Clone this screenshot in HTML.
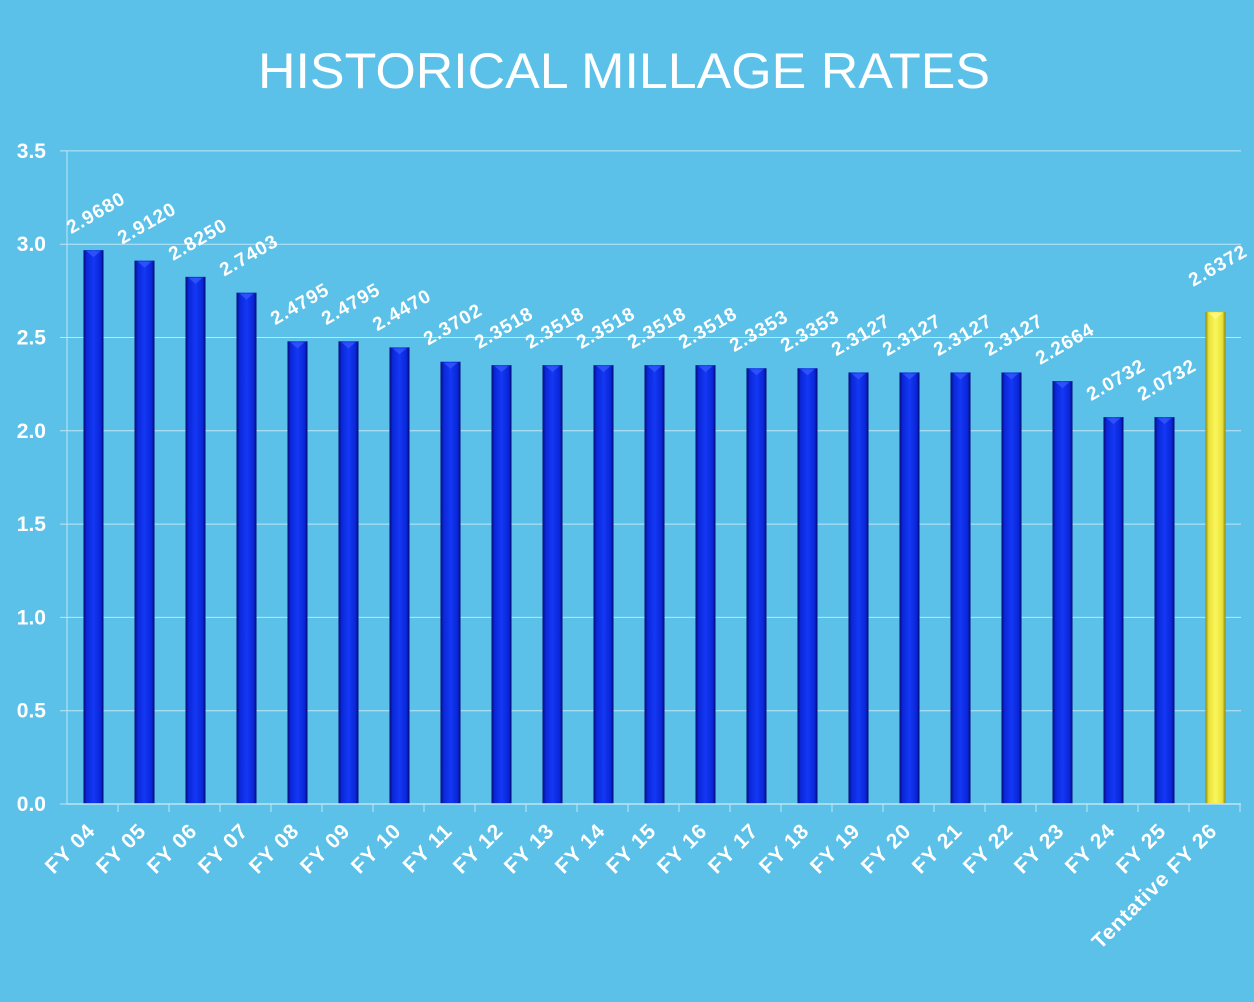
<!DOCTYPE html>
<html><head><meta charset="utf-8"><style>
html,body{margin:0;padding:0;background:#5bc1e8;}
svg{display:block;}
text{font-family:"Liberation Sans",sans-serif;fill:#fff;}
</style></head><body>
<svg width="1254" height="1002" viewBox="0 0 1254 1002" xmlns="http://www.w3.org/2000/svg">
<defs>
<linearGradient id="gb" x1="0" x2="1" y1="0" y2="0">
<stop offset="0" stop-color="#000a70"/><stop offset="0.15" stop-color="#0a26d8"/><stop offset="0.5" stop-color="#1438f5"/><stop offset="0.85" stop-color="#0a26d8"/><stop offset="1" stop-color="#000a70"/>
</linearGradient>
<linearGradient id="gy" x1="0" x2="1" y1="0" y2="0">
<stop offset="0" stop-color="#8a8410"/><stop offset="0.15" stop-color="#e8e03a"/><stop offset="0.5" stop-color="#fbf65a"/><stop offset="0.85" stop-color="#e8e03a"/><stop offset="1" stop-color="#8a8410"/>
</linearGradient>
</defs>
<rect width="1254" height="1002" fill="#5bc1e8"/>
<text x="624" y="88" text-anchor="middle" font-size="50" textLength="732" lengthAdjust="spacingAndGlyphs">HISTORICAL MILLAGE RATES</text>
</svg>
<script>
var s=document.querySelector('svg'),NS='http://www.w3.org/2000/svg';
function el(t,a,txt){var e=document.createElementNS(NS,t);for(var k in a)e.setAttribute(k,a[k]);if(txt!=null)e.textContent=txt;s.appendChild(e);return e;}
var y0=804,k=186.6,x0=67;
for(var i=0;i<=7;i++){var v=i*0.5,y=y0-v*k;
 el('line',{x1:60,x2:1241,y1:y,y2:y,stroke:'#bfe6f6','stroke-width':1});
 el('text',{x:46,y:y+7,'text-anchor':'end','font-size':21,'font-weight':'bold'},v.toFixed(1));}
el('line',{x1:x0,x2:x0,y1:151,y2:y0,stroke:'#bfe6f6','stroke-width':1});
var d=[["FY 04",2.968],["FY 05",2.912],["FY 06",2.825],["FY 07",2.7403],["FY 08",2.4795],["FY 09",2.4795],["FY 10",2.447],["FY 11",2.3702],["FY 12",2.3518],["FY 13",2.3518],["FY 14",2.3518],["FY 15",2.3518],["FY 16",2.3518],["FY 17",2.3353],["FY 18",2.3353],["FY 19",2.3127],["FY 20",2.3127],["FY 21",2.3127],["FY 22",2.3127],["FY 23",2.2664],["FY 24",2.0732],["FY 25",2.0732],["Tentative FY 26",2.6372]];
var w=51;
d.forEach(function(p,i){
 var cx=x0+w*i+w/2+1,top=y0-p[1]*k,yl=i==22;
 el('line',{x1:x0+w*(i+1),x2:x0+w*(i+1),y1:y0,y2:y0+8,stroke:'#bfe6f6'});
 el('rect',{x:cx-10,y:top,width:20,height:y0-top,fill:yl?'url(#gy)':'url(#gb)'});
 el('polygon',{points:(cx-7)+','+(top+1)+' '+(cx+7)+','+(top+1)+' '+cx+','+(top+7),fill:yl?'#fffb90':'#3a5cff',opacity:0.7});
 var ly=yl?top-40:top-31;
 el('text',{x:cx+2,y:ly,'text-anchor':'middle','font-size':19,'letter-spacing':'1','font-weight':'bold',transform:'rotate(-30 '+(cx+2)+' '+(ly-7)+')'},p[1].toFixed(4));
 el('text',{x:cx+3,y:832,'text-anchor':'end','font-size':21,'letter-spacing':'1','font-weight':'bold',transform:'rotate(-45 '+(cx+3)+' 832)'},p[0]);
});
el('line',{x1:x0,x2:1241,y1:y0,y2:y0,stroke:'#bfe6f6','stroke-width':1.5});
</script>
</body></html>
